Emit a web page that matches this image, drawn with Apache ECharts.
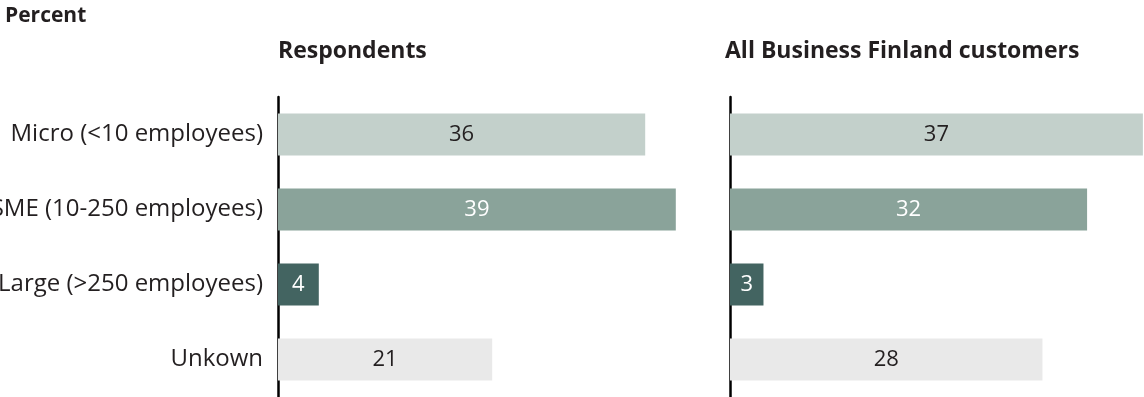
<!DOCTYPE html>
<html>
<head>
<meta charset="utf-8">
<script src="https://cdn.jsdelivr.net/npm/echarts@6/dist/echarts.min.js"></script>
<style>html,body{margin:0;padding:0;background:#fff}#c{width:1144px;height:397px}</style>
</head>
<body>
<div id="c"></div>
<script>
const categories = ['Micro (<10 employees)', 'SME (10-250 employees)', 'Large (>250 employees)', 'Unkown'];
const respondents = [36, 39, 4, 21];
const customers = [37, 32, 3, 28];
const panelTitles = ['Respondents', 'All Business Finland customers'];
const unitLabel = 'Percent';

const barColors = ['#c3d0cb', '#8aa39a', '#436461', '#e9e9e9'];
const labelColors = ['#231f20', '#ffffff', '#ffffff', '#231f20'];
const FONT = '"Open Sans", sans-serif';

function items(vals) {
  return vals.map((v, i) => ({
    value: v,
    itemStyle: { color: barColors[i] },
    label: { color: labelColors[i] }
  }));
}

const chart = echarts.init(document.getElementById('c'), null, { renderer: 'canvas' });
const yBase = {
  type: 'category',
  data: categories,
  inverse: true,
  axisLine: { show: true, lineStyle: { color: '#000', width: 2.5 } },
  axisTick: { show: false },
  splitLine: { show: false }
};
const seriesBase = {
  type: 'bar',
  barWidth: 42,
  silent: true,
  label: { show: true, position: 'inside', fontFamily: FONT, fontSize: 22 }
};
const titleStyle = { fontFamily: FONT, fontSize: 23, fontWeight: 'bold', color: '#231f20' };
chart.setOption({
  animation: false,
  textStyle: { fontFamily: FONT },
  title: [
    { text: unitLabel, left: 5, top: 6, padding: 0, textStyle: { fontFamily: FONT, fontSize: 21, fontWeight: 'bold', color: '#231f20' } },
    { text: panelTitles[0], left: 278, top: 40, padding: 0, textStyle: titleStyle },
    { text: panelTitles[1], left: 725, top: 40, padding: 0, textStyle: titleStyle }
  ],
  grid: [
    { left: 278, width: 408, top: 97, height: 300, containLabel: false, outerBoundsMode: 'none' },
    { left: 730, width: 414, top: 97, height: 300, containLabel: false, outerBoundsMode: 'none' }
  ],
  xAxis: [
    { gridIndex: 0, type: 'value', min: 0, max: 40, show: false },
    { gridIndex: 1, type: 'value', min: 0, max: 37.1, show: false }
  ],
  yAxis: [
    Object.assign({ gridIndex: 0, axisLabel: { show: true, fontFamily: FONT, fontSize: 24, color: '#231f20', margin: 15 } }, yBase),
    Object.assign({ gridIndex: 1, axisLabel: { show: false } }, yBase)
  ],
  series: [
    Object.assign({ xAxisIndex: 0, yAxisIndex: 0, data: items(respondents) }, seriesBase),
    Object.assign({ xAxisIndex: 1, yAxisIndex: 1, data: items(customers) }, seriesBase)
  ]
});
</script>
</body>
</html>
